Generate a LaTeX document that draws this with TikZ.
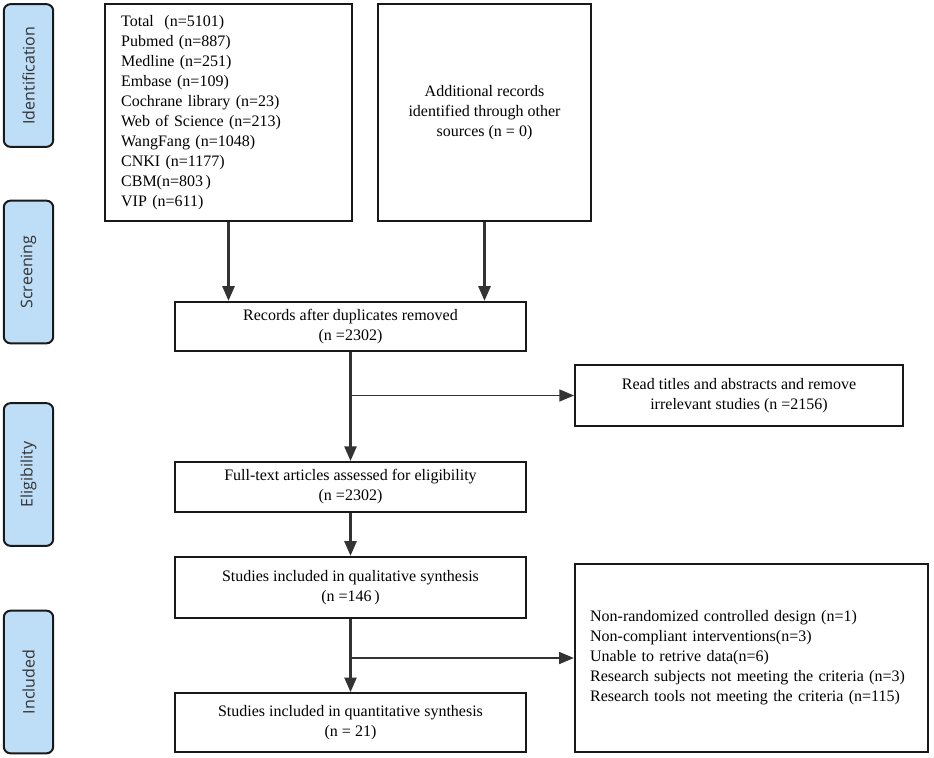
\documentclass[tikz,border=0pt]{standalone}
\usepackage{fontspec}
\setmainfont{Liberation Serif}
\newfontfamily\phasefont{Open Sans}
\usetikzlibrary{arrows.meta}
\definecolor{phaseblue}{RGB}{190,222,248}
\definecolor{linegray}{RGB}{51,51,51}

\begin{document}
\begin{tikzpicture}[x=0.75pt,y=-0.75pt,
                every path/.style={>={Triangle[length=11pt,width=9pt]}},
                box/.style={draw=black!90,line width=1.5pt,inner sep=0pt,align=center,
                            font=\fontsize{12}{15}\selectfont},
                phase/.style={draw=black!90,line width=1.5pt,rounded corners=5pt,fill=phaseblue,
                              rotate=90,minimum width=107pt,minimum height=37pt,inner sep=0pt,
                              text=black!80,font=\phasefont\fontsize{12}{14}\selectfont},
                link/.style={->,draw=linegray,line width=1.9pt},
                branch/.style={->,draw=linegray,line width=1.1pt}]
  \useasboundingbox (0,0) rectangle (934,757);
  % stages
  \node[phase] (ident)  at (28.5,75.5)  {Identification};
  \node[phase] (screen) at (28.5,272)   {Screening};
  \node[phase] (elig)   at (28.5,474.5) {Eligibility};
  \node[phase] (incl)   at (28.5,682)   {Included};
  % boxes
  \node[box,minimum width=185pt,minimum height=163pt,text width=161pt,align=left] (db) at (228.5,112.5)
    {Total~~(n=5101)\\Pubmed (n=887)\\Medline (n=251)\\Embase (n=109)\\Cochrane library (n=23)\\
     Web of Science (n=213)\\WangFang (n=1048)\\CNKI (n=1177)\\CBM(n=803\,)\\VIP (n=611)};
  \node[box,minimum width=160pt,minimum height=163pt] (other) at (484.5,112.5)
    {Additional records\\identified through other\\sources (n = 0)};
  \node[box,minimum width=263pt,minimum height=37pt] (rec) at (350.5,326.5)
    {Records after duplicates removed\\(n =2302)};
  \node[box,minimum width=246pt,minimum height=46pt] (read) at (739,395.5)
    {Read titles and abstracts and remove\\irrelevant studies (n =2156)};
  \node[box,minimum width=263pt,minimum height=37.5pt] (full) at (350.5,487)
    {Full-text articles assessed for eligibility\\(n =2302)};
  \node[box,minimum width=263pt,minimum height=46pt] (qual) at (350.5,587.5)
    {Studies included in qualitative synthesis\\(n =146\,)};
  \node[box,minimum width=263pt,minimum height=44pt] (quant) at (350.5,722.5)
    {Studies included in quantitative synthesis\\(n = 21)};
  \node[box,minimum width=265pt,minimum height=141pt,text width=242pt,align=left] (excl) at (751.5,658)
    {Non-randomized controlled design (n=1)\\Non-compliant interventions(n=3)\\Unable to retrive data(n=6)\\
     Research subjects not meeting the criteria (n=3)\\Research tools not meeting the criteria (n=115)};
  % arrows
  \coordinate (cut1) at (rec.south |- read.west);
  \coordinate (cut2) at (qual.south |- excl.west);
  \draw[link] (db.south) -- (db.south |- rec.north);
  \draw[link] (other.south) -- (other.south |- rec.north);
  \draw[link] (rec) -- (full);
  \draw[branch] (cut1) -- (read.west);
  \draw[link] (full) -- (qual);
  \draw[link] (qual) -- (quant);
  \draw[branch] (cut2) -- (excl.west);
\end{tikzpicture}
\end{document}
